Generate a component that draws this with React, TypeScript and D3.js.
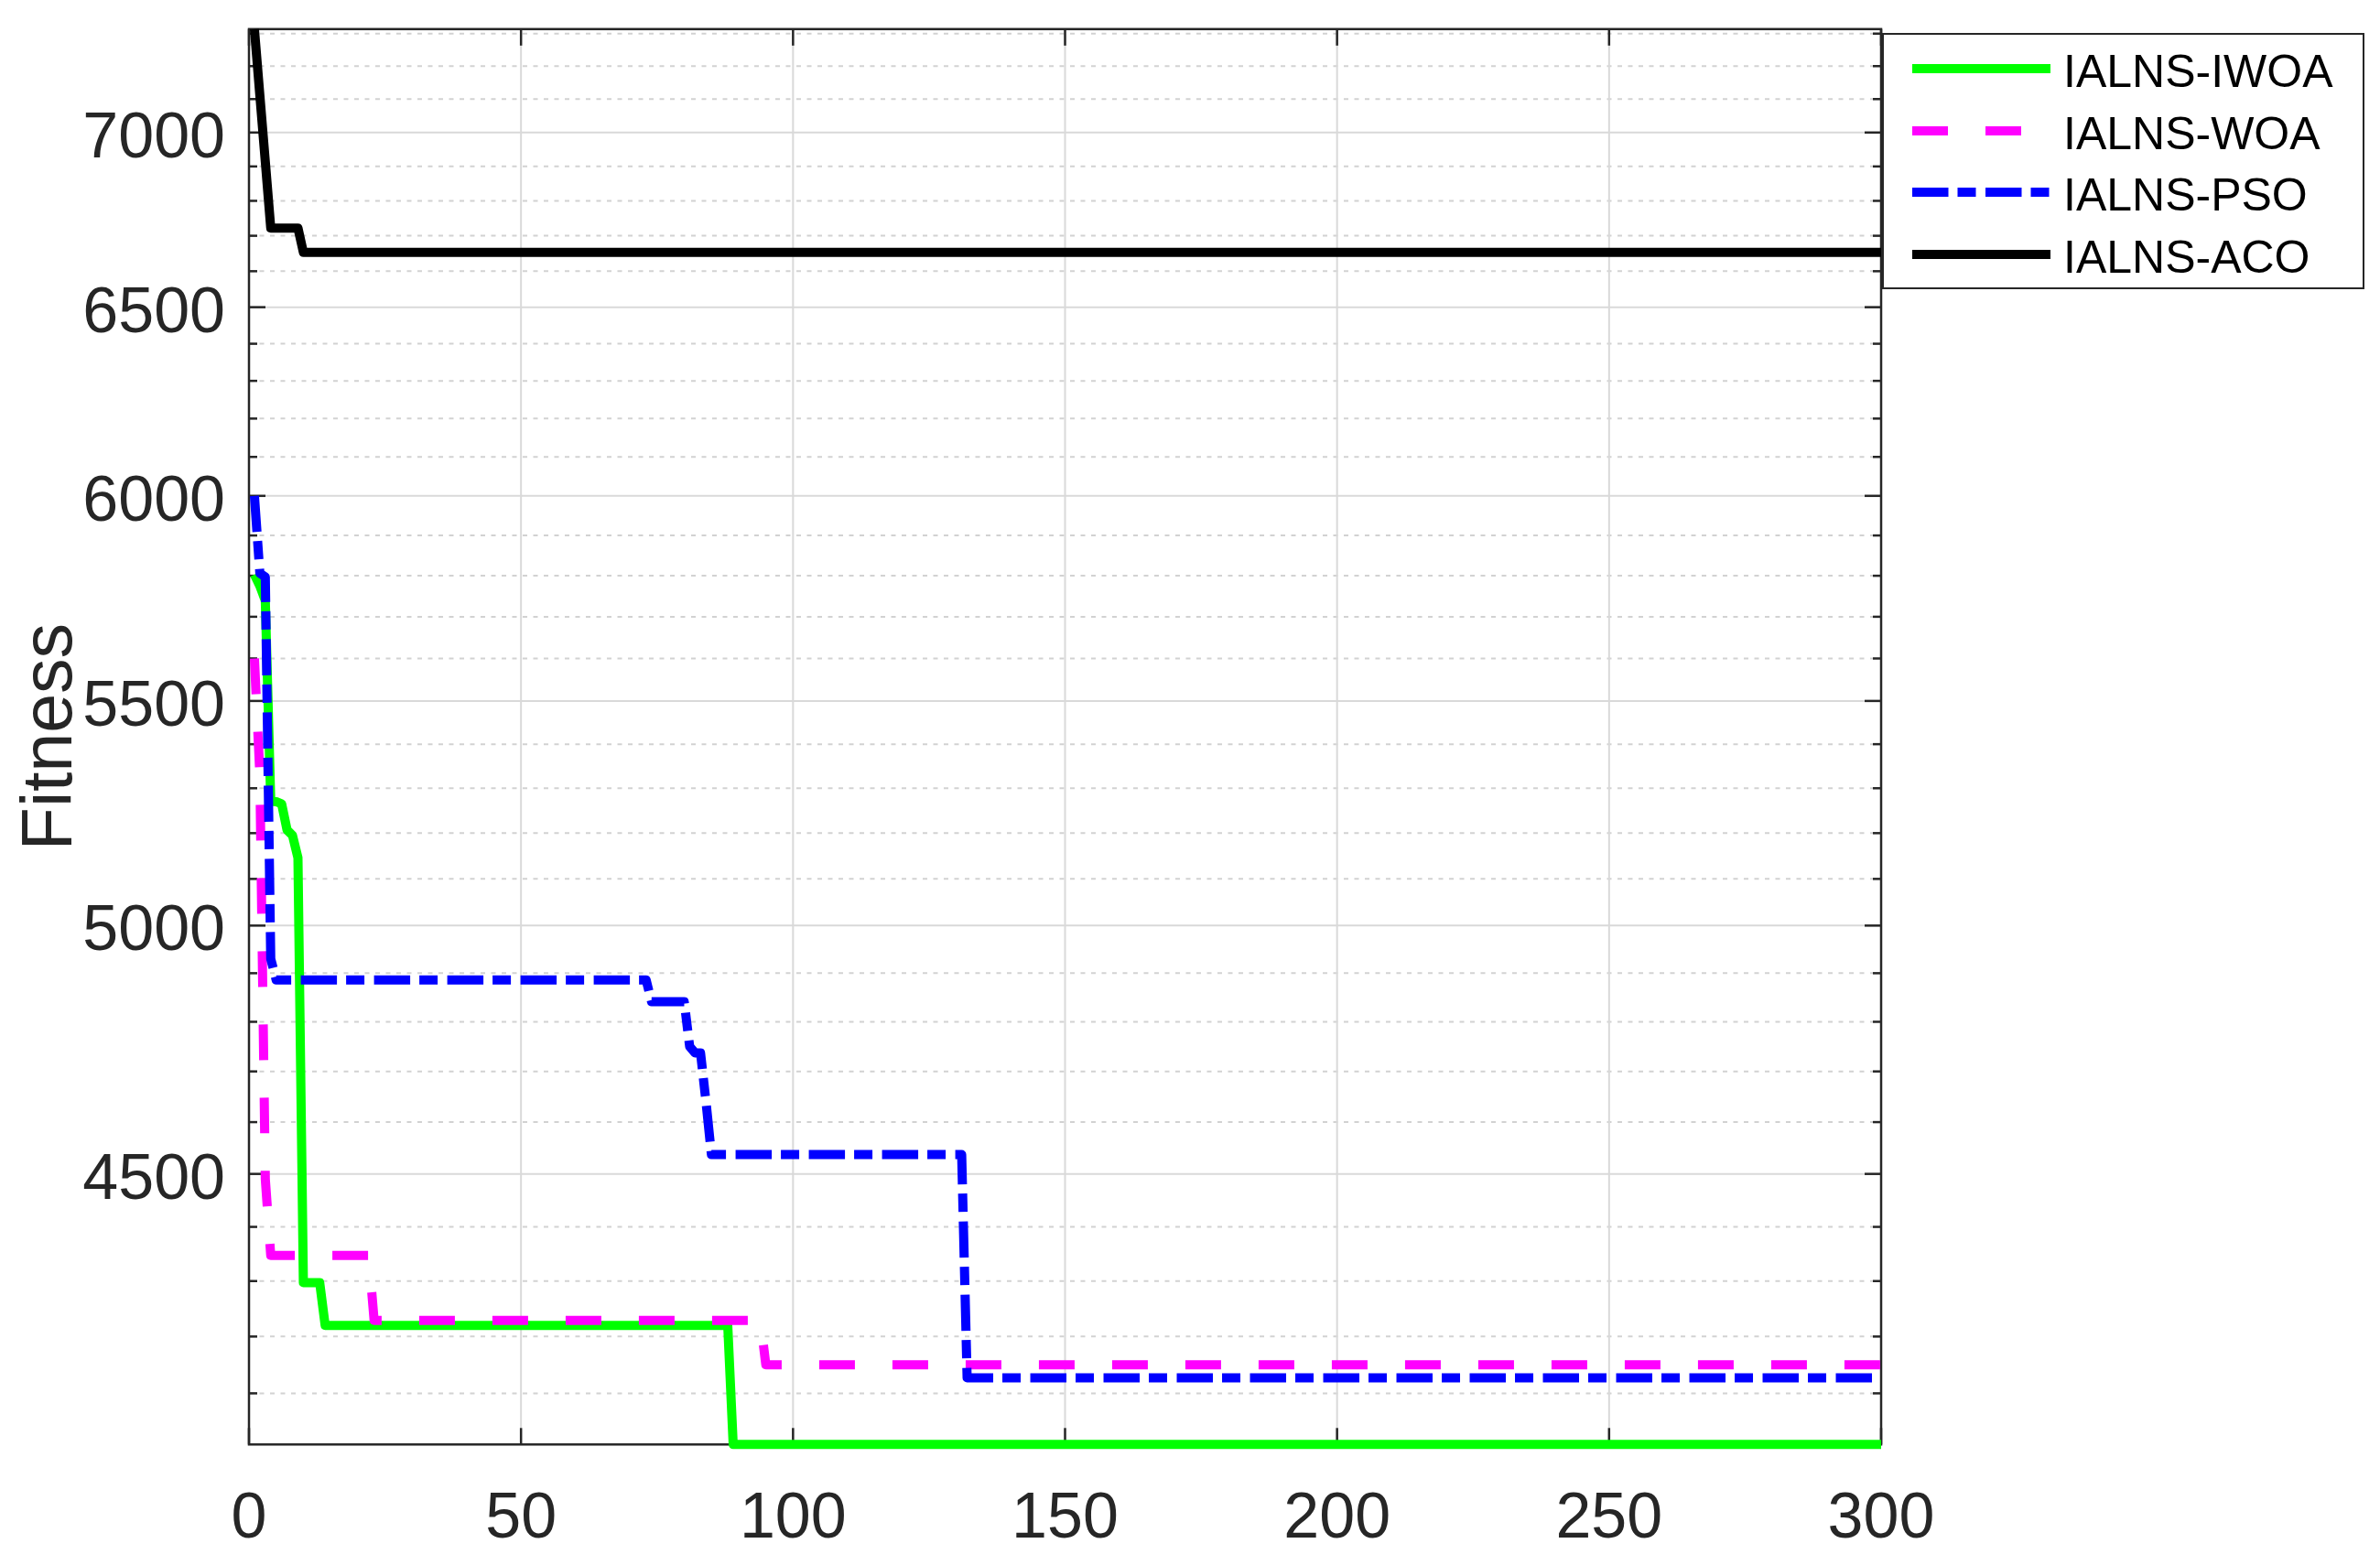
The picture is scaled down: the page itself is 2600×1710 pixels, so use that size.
import React from 'react';
import * as d3 from 'd3';

const W = 2600;
const H = 1710;

// ---- tick values ----
const xTicks = [0, 50, 100, 150, 200, 250, 300];
const yTicks = [4500, 5000, 5500, 6000, 6500, 7000];
const yMinorTicks = [4100, 4200, 4300, 4400, 4600, 4700, 4800, 4900, 5100, 5200, 5300, 5400,
  5600, 5700, 5800, 5900, 6100, 6200, 6300, 6400, 6600, 6700, 6800, 6900, 7100, 7200, 7300];

// ---- series (iteration, fitness) breakpoints ----
const iwoaIter = [1, 2, 3, 4, 5, 6, 7, 8, 9, 10, 13, 14, 88, 89, 300];
const iwoaFit = [5803, 5775, 5739, 5271, 5270, 5265, 5207, 5195, 5146, 4297, 4297, 4220, 4220, 4012, 4012];

const woaIter = [1, 2, 3, 4, 22, 23, 94, 95, 300];
const woaFit = [5600, 5330, 4490, 4347, 4347, 4229, 4229, 4150, 4150];

const psoIter = [1, 2, 3, 4, 5, 73, 74, 80, 81, 82, 83, 84, 85, 131, 132, 300];
const psoFit = [6000, 5806, 5797, 4930, 4886, 4886, 4841, 4841, 4750, 4737, 4737, 4640, 4537, 4537, 4127, 4127];

const acoIter = [1, 2, 3, 4, 9, 10, 300];
const acoFit = [7314, 7111, 6914, 6722, 6722, 6653, 6653];

const seriesNames = ['IALNS-IWOA', 'IALNS-WOA', 'IALNS-PSO', 'IALNS-ACO'];

const xDomain = [0, 300];
const yDomain = [4012, 7314];

const FONT = '"Liberation Sans", Arial, Helvetica, sans-serif';

export default function App() {
  const left = 272, right = 2055, top = 31.8, bottom = 1578.3;
  const x = d3.scaleLinear().domain(xDomain).range([left, right]);
  const y = d3.scaleLog().domain(yDomain).range([bottom, top]);

  const mk = (it: number[], f: number[]) => it.map((v, i) => [v, f[i]] as [number, number]);
  const line = d3.line<[number, number]>().x(d => x(d[0])).y(d => y(d[1]));

  const series = [
    { name: seriesNames[0], data: mk(iwoaIter, iwoaFit), color: '#00ff00', dash: undefined },
    { name: seriesNames[1], data: mk(woaIter, woaFit), color: '#ff00ff', dash: '39 41' },
    { name: seriesNames[2], data: mk(psoIter, psoFit), color: '#0000ff', dash: '39.5 10 20 10.5' },
    { name: seriesNames[3], data: mk(acoIter, acoFit), color: '#000000', dash: undefined },
  ];

  const axisColor = '#262626';
  const lw = 10;

  const legX = 2057, legY = 37, legW = 525, legH = 278;
  const legRowY = [75, 143, 210, 278];

  return (
    <svg width={W} height={H} style={{ position: 'absolute', left: 0, top: 0, background: '#fff' }}
      xmlns="http://www.w3.org/2000/svg">
      <rect x={0} y={0} width={W} height={H} fill="#ffffff" />
      {/* minor grid */}
      {yMinorTicks.map(v => (
        <line key={'mg' + v} x1={left} x2={right} y1={y(v)} y2={y(v)}
          stroke="#d2d2d2" strokeWidth={2} strokeDasharray="5 6.5" />
      ))}
      {/* major grid */}
      {yTicks.map(v => (
        <line key={'gy' + v} x1={left} x2={right} y1={y(v)} y2={y(v)} stroke="#d9d9d9" strokeWidth={2} />
      ))}
      {xTicks.map(v => (
        <line key={'gx' + v} x1={x(v)} x2={x(v)} y1={top} y2={bottom} stroke="#d9d9d9" strokeWidth={2} />
      ))}
      {/* axes box */}
      <rect x={left} y={top} width={right - left} height={bottom - top} fill="none"
        stroke={axisColor} strokeWidth={2.5} />
      {/* x ticks */}
      {xTicks.map(v => (
        <g key={'xt' + v}>
          <line x1={x(v)} x2={x(v)} y1={bottom} y2={bottom - 18} stroke={axisColor} strokeWidth={2.5} />
          <line x1={x(v)} x2={x(v)} y1={top} y2={top + 18} stroke={axisColor} strokeWidth={2.5} />
          <text x={x(v)} y={1680} textAnchor="middle" fontFamily={FONT} fontSize={70} fill={axisColor}>{v}</text>
        </g>
      ))}
      {/* y ticks */}
      {yTicks.map(v => (
        <g key={'yt' + v}>
          <line x1={left} x2={left + 18} y1={y(v)} y2={y(v)} stroke={axisColor} strokeWidth={2.5} />
          <line x1={right} x2={right - 18} y1={y(v)} y2={y(v)} stroke={axisColor} strokeWidth={2.5} />
          <text x={246} y={y(v) + 27} textAnchor="end" fontFamily={FONT} fontSize={70} fill={axisColor}>{v}</text>
        </g>
      ))}
      {yMinorTicks.map(v => (
        <g key={'ym' + v}>
          <line x1={left} x2={left + 9} y1={y(v)} y2={y(v)} stroke={axisColor} strokeWidth={2.5} />
          <line x1={right} x2={right - 9} y1={y(v)} y2={y(v)} stroke={axisColor} strokeWidth={2.5} />
        </g>
      ))}
      {/* y label */}
      <text transform={`translate(78, ${(top + bottom) / 2}) rotate(-90)`} textAnchor="middle"
        fontFamily={FONT} fontSize={77} fill={axisColor}>Fitness</text>
      {/* series */}
      {series.map(s => (
        <path key={s.name} d={line(s.data) || ''} fill="none" stroke={s.color} strokeWidth={lw}
          strokeDasharray={s.dash} strokeLinejoin="round" strokeLinecap="butt" />
      ))}
      {/* legend */}
      <rect x={legX} y={legY} width={legW} height={legH} fill="#ffffff" stroke={axisColor} strokeWidth={2} />
      {series.map((s, i) => (
        <g key={'leg' + s.name}>
          <line x1={2089} x2={2240} y1={legRowY[i]} y2={legRowY[i]} stroke={s.color} strokeWidth={lw}
            strokeDasharray={s.dash} />
          <text x={2254} y={legRowY[i] + 20} fontFamily={FONT} fontSize={50} fill="#000">{s.name}</text>
        </g>
      ))}
    </svg>
  );
}
